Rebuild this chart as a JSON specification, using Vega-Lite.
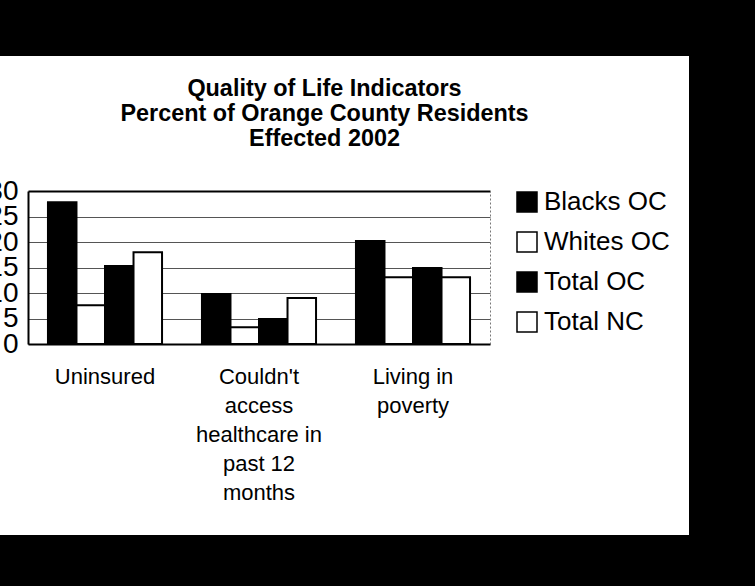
{
  "$schema": "https://vega.github.io/schema/vega-lite/v6.json",
  "width": 689,
  "height": 479,
  "autosize": {"type": "none"},
  "padding": {"left": 0, "top": 56, "right": 66, "bottom": 51},
  "background": "black",
  "config": {
    "view": {"fill": "white", "stroke": null},
    "font": "Liberation Sans",
    "axis": {"labelColor": "black", "labelFont": "Liberation Sans"},
    "legend": {"labelFont": "Liberation Sans"}
  },
  "title": {
    "text": ["Quality of Life Indicators", "Percent of Orange County Residents", "Effected 2002"],
    "fontSize": 23.4,
    "fontWeight": "bold",
    "font": "Liberation Sans",
    "color": "black",
    "lineHeight": 25,
    "anchor": "middle",
    "frame": "group",
    "dx": -20,
    "offset": -95
  },
  "data": {
    "values": [
      {"indicator": "Uninsured", "group": "Blacks OC", "value": 27.8},
      {"indicator": "Uninsured", "group": "Whites OC", "value": 7.6},
      {"indicator": "Uninsured", "group": "Total OC", "value": 15.3},
      {"indicator": "Uninsured", "group": "Total NC", "value": 18.0},
      {"indicator": "Couldn't access healthcare in past 12 months", "group": "Blacks OC", "value": 9.8},
      {"indicator": "Couldn't access healthcare in past 12 months", "group": "Whites OC", "value": 3.3},
      {"indicator": "Couldn't access healthcare in past 12 months", "group": "Total OC", "value": 4.9},
      {"indicator": "Couldn't access healthcare in past 12 months", "group": "Total NC", "value": 9.0},
      {"indicator": "Living in poverty", "group": "Blacks OC", "value": 20.2},
      {"indicator": "Living in poverty", "group": "Whites OC", "value": 13.1},
      {"indicator": "Living in poverty", "group": "Total OC", "value": 14.9},
      {"indicator": "Living in poverty", "group": "Total NC", "value": 13.1}
    ]
  },
  "layer": [
    {
      "mark": {"type": "bar", "stroke": "black", "strokeWidth": 2},
      "encoding": {
        "x": {
          "field": "indicator",
          "type": "nominal",
          "sort": ["Uninsured", "Couldn't access healthcare in past 12 months", "Living in poverty"],
          "scale": {"range": [28, 490], "paddingInner": 0, "paddingOuter": 0},
          "axis": {
            "title": null,
            "orient": "bottom",
            "offset": -191,
            "labelAngle": 0,
            "labelFontSize": 22,
            "labelPadding": 22,
            "labelLineHeight": 29,
            "labelLimit": 0,
            "labelExpr": "datum.value === 'Uninsured' ? 'Uninsured' : datum.value === 'Living in poverty' ? ['Living in', 'poverty'] : [\"Couldn't\", 'access', 'healthcare in', 'past 12', 'months']",
            "ticks": false,
            "domain": true,
            "domainColor": "black",
            "domainWidth": 2,
            "grid": false
          }
        },
        "xOffset": {
          "field": "group",
          "sort": ["Blacks OC", "Whites OC", "Total OC", "Total NC"],
          "scale": {"paddingInner": 0, "paddingOuter": 0.7}
        },
        "y": {
          "field": "value",
          "type": "quantitative",
          "scale": {"domain": [0, 30], "range": [288, 135], "nice": false},
          "axis": {
            "title": null,
            "orient": "left",
            "values": [0, 5, 10, 15, 20, 25, 30],
            "offset": -28,
            "labelFontSize": 28,
            "labelPadding": 10,
            "ticks": false,
            "tickSize": 0,
            "domain": true,
            "domainColor": "black",
            "domainWidth": 2,
            "grid": true,
            "gridColor": {"condition": {"test": "datum.value === 30", "value": "black"}, "value": "#555555"},
            "gridWidth": {"condition": {"test": "datum.value === 30", "value": 2}, "value": 1},
            "labelFlush": false,
            "labelOverlap": false
          }
        },
        "color": {
          "field": "group",
          "type": "nominal",
          "sort": ["Blacks OC", "Whites OC", "Total OC", "Total NC"],
          "scale": {"domain": ["Blacks OC", "Whites OC", "Total OC", "Total NC"], "range": ["black", "white", "black", "white"]},
          "legend": {
            "title": null,
            "orient": "none",
            "legendX": 514,
            "legendY": 133,
            "symbolType": "square",
            "symbolSize": 400,
            "symbolStrokeColor": "black",
            "symbolStrokeWidth": 1.5,
            "symbolOpacity": 1,
            "labelFontSize": 26,
            "labelColor": "black",
            "rowPadding": 14,
            "labelOffset": 4,
            "padding": 0
          }
        }
      }
    },
    {
      "mark": {"type": "rule", "opacity": 0},
      "encoding": {
        "y": {
          "field": "value",
          "type": "quantitative",
          "axis": {
            "title": null,
            "orient": "right",
            "offset": -199,
            "labels": false,
            "ticks": false,
            "grid": false,
            "domain": true,
            "domainColor": "#777777",
            "domainDash": [2, 2],
            "domainWidth": 1
          }
        }
      }
    }
  ],
  "resolve": {"axis": {"y": "independent"}}
}
